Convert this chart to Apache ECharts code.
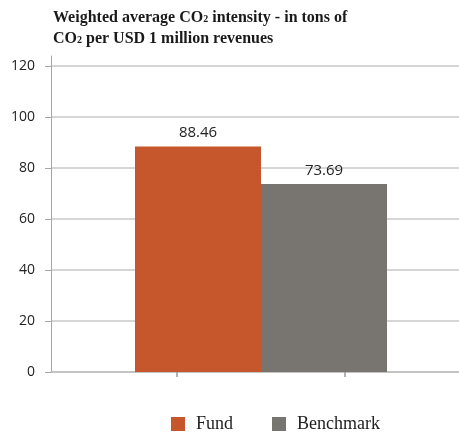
<!DOCTYPE html>
<html>
<head>
<meta charset="utf-8">
<script src="https://cdn.jsdelivr.net/npm/echarts@6/dist/echarts.min.js"></script>
<style>
  html, body { margin: 0; padding: 0; background: #fff; }
  #chart { width: 459px; height: 435px; }
</style>
</head>
<body>
<div id="chart"></div>
<script>
// Weighted average CO2 intensity: fund vs benchmark
const categories = [''];
const seriesNames = ['Fund', 'Benchmark'];
const fundValues = [88.46];
const benchmarkValues = [73.69];
const yTicks = [0, 20, 40, 60, 80, 100, 120];

const colors = { fund: '#C6572D', benchmark: '#78746F' };
const serif = '"Liberation Serif", "DejaVu Serif", serif';
const sans = '"Open Sans", "Noto Sans", sans-serif';

const chart = echarts.init(document.getElementById('chart'), null, { renderer: 'canvas' });

// plot area runs past the right edge of the canvas
const gridBase = { left: 51, width: 420, bottom: 63, containLabel: false, outerBoundsMode: 'none' };

chart.setOption({
  animation: false,
  title: {
    left: 48,
    top: 2,
    text: 'Weighted average CO{sub|2} intensity - in tons of\nCO{sub|2} per USD 1 million revenues',
    textStyle: {
      fontFamily: serif,
      fontWeight: 'bold',
      fontSize: 16,
      color: '#1a1a1a',
      lineHeight: 21,
      rich: {
        sub: { fontFamily: serif, fontWeight: 'bold', fontSize: 10, color: '#1a1a1a', lineHeight: 21, padding: [3, 0, 0, 0] }
      }
    }
  },
  legend: {
    data: seriesNames,
    left: 171,
    bottom: 2,
    padding: 0,
    icon: 'rect',
    itemWidth: 14,
    itemHeight: 14,
    itemGap: 39,
    textStyle: { fontFamily: serif, fontSize: 18, color: '#222', padding: [0, 0, 0, 6] }
  },
  grid: [
    Object.assign({ top: 66 }, gridBase),
    Object.assign({ top: 56 }, gridBase)
  ],
  xAxis: [
    {
      type: 'category',
      data: categories,
      gridIndex: 0,
      axisLine: { show: false },
      axisTick: { show: false },
      axisLabel: { show: false }
    },
    {
      // bottom baseline with its two tick marks
      type: 'value',
      gridIndex: 0,
      min: 0,
      max: 1,
      position: 'bottom',
      axisLine: { show: true, onZero: false, lineStyle: { color: '#bdbdbd', width: 1.5 } },
      axisTick: { show: true, customValues: [0.3, 0.7], length: 5, lineStyle: { color: '#9a9a9a', width: 1.5 } },
      axisLabel: { show: false },
      splitLine: { show: false }
    },
    {
      type: 'value',
      gridIndex: 1,
      show: false,
      min: 0,
      max: 1
    }
  ],
  yAxis: [
    {
      type: 'value',
      gridIndex: 0,
      min: yTicks[0],
      max: yTicks[yTicks.length - 1],
      interval: yTicks[1] - yTicks[0],
      axisLine: { show: false },
      axisTick: { show: true, length: 6, lineStyle: { color: '#a6a6a6', width: 1 } },
      axisLabel: { margin: 16, fontFamily: sans, fontSize: 14, color: '#222' },
      splitLine: { show: true, lineStyle: { color: '#c8c8c8', width: 1.5 } }
    },
    {
      // vertical axis line reaching above the top gridline
      type: 'value',
      gridIndex: 1,
      min: 0,
      max: 1,
      axisLine: { show: true, lineStyle: { color: '#a6a6a6', width: 1 } },
      axisTick: { show: false },
      axisLabel: { show: false },
      splitLine: { show: false }
    }
  ],
  series: [
    {
      name: seriesNames[0],
      type: 'bar',
      xAxisIndex: 0,
      yAxisIndex: 0,
      data: fundValues,
      barWidth: '30%',
      barGap: '0%',
      itemStyle: { color: colors.fund },
      label: {
        show: true, position: 'top', distance: 6,
        fontFamily: sans, fontSize: 15, color: '#222',
        formatter: p => p.value.toFixed(2)
      }
    },
    {
      name: seriesNames[1],
      type: 'bar',
      xAxisIndex: 0,
      yAxisIndex: 0,
      data: benchmarkValues,
      barWidth: '30%',
      barGap: '0%',
      itemStyle: { color: colors.benchmark },
      label: {
        show: true, position: 'top', distance: 6,
        fontFamily: sans, fontSize: 15, color: '#222',
        formatter: p => p.value.toFixed(2)
      }
    }
  ]
});
</script>
</body>
</html>
